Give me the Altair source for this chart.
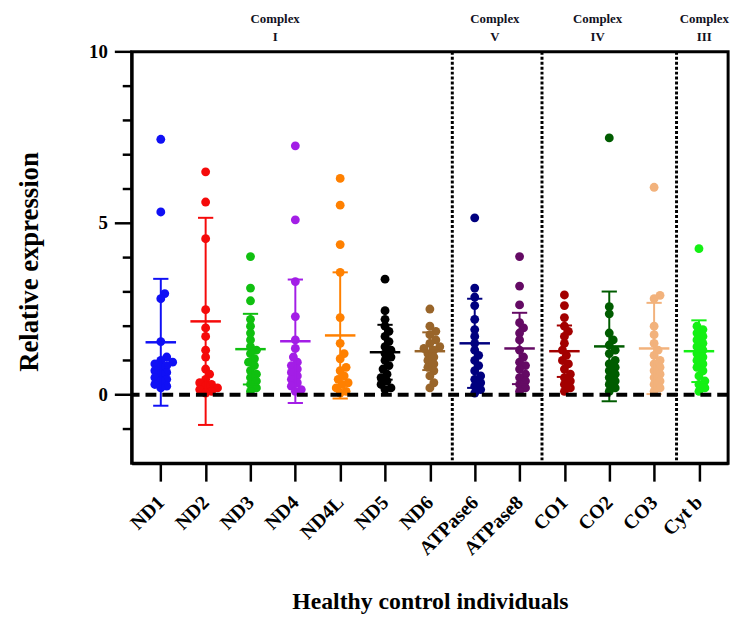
import altair as alt
import pandas as pd

genes = ["ND1", "ND2", "ND3", "ND4", "ND4L", "ND5", "ND6",
         "ATPase6", "ATPase8", "CO1", "CO2", "CO3", "Cyt b"]
colors = ["#1010f5", "#f50a0a", "#10c010", "#a31ee6", "#ff8000", "#000000", "#99652a",
          "#00007f", "#640a64", "#a30000", "#005c00", "#f2b27c", "#14f014"]

nd1 = [7.45, 5.33, 2.95, 2.8, 1.55, 1.1, 1.0, 0.95, 0.9, 0.85, 0.8, 0.7, 0.65, 0.6, 0.5, 0.45, 0.4, 0.3, 0.25, 0.2]
nd2 = [6.5, 5.62, 4.55, 2.48, 1.95, 1.7, 1.3, 1.1, 0.75, 0.6, 0.45, 0.35, 0.3, 0.25, 0.2, 0.15, 0.1, 0.05]
nd3 = [4.03, 3.11, 2.74, 2.2, 2.0, 1.8, 1.6, 1.4, 1.3, 1.2, 1.05, 0.95, 0.85, 0.7, 0.6, 0.5, 0.4, 0.3, 0.2, 0.1]
nd4 = [7.26, 5.1, 3.3, 2.28, 1.6, 1.35, 1.1, 0.95, 0.85, 0.75, 0.65, 0.55, 0.45, 0.35, 0.25, 0.15, 0.1]
nd4l = [6.31, 5.53, 4.38, 3.57, 2.25, 1.5, 1.2, 1.05, 0.8, 0.7, 0.55, 0.45, 0.35, 0.3, 0.2, 0.1, 0.05]
nd5 = [3.37, 2.45, 2.2, 2.0, 1.85, 1.7, 1.55, 1.4, 1.3, 1.2, 1.1, 1.0, 0.85, 0.75, 0.6, 0.5, 0.4, 0.3, 0.2, 0.15]
nd6 = [2.5, 2.0, 1.85, 1.75, 1.6, 1.5, 1.4, 1.35, 1.3, 1.2, 1.1, 1.0, 0.9, 0.8, 0.7, 0.55, 0.35, 0.2]
atpase6 = [5.16, 3.11, 2.85, 2.6, 2.2, 1.9, 1.7, 1.5, 1.3, 1.15, 1.0, 0.85, 0.7, 0.55, 0.45, 0.35, 0.25, 0.15, 0.05]
atpase8 = [4.03, 3.17, 2.62, 2.1, 1.95, 1.8, 1.6, 1.3, 1.1, 0.95, 0.85, 0.75, 0.6, 0.5, 0.4, 0.3, 0.2, 0.1]
co1 = [2.91, 2.6, 2.25, 2.0, 1.85, 1.7, 1.5, 1.3, 1.15, 1.0, 0.9, 0.75, 0.6, 0.5, 0.4, 0.3, 0.2, 0.1]
co2 = [7.49, 2.57, 2.36, 1.8, 1.6, 1.45, 1.3, 1.2, 1.0, 0.9, 0.8, 0.7, 0.6, 0.5, 0.4, 0.3, 0.2, 0.1]
co3 = [6.05, 2.9, 2.8, 2.0, 1.75, 1.5, 1.3, 1.15, 1.0, 0.9, 0.8, 0.7, 0.6, 0.5, 0.4, 0.3, 0.2, 0.1]
cytb = [4.26, 2.0, 1.9, 1.8, 1.7, 1.6, 1.5, 1.4, 1.3, 1.2, 1.1, 1.0, 0.9, 0.8, 0.7, 0.55, 0.4, 0.3, 0.2, 0.1]
series = [nd1, nd2, nd3, nd4, nd4l, nd5, nd6, atpase6, atpase8, co1, co2, co3, cytb]

means = [1.53, 2.14, 1.33, 1.56, 1.73, 1.24, 1.27, 1.50, 1.35, 1.27, 1.41, 1.35, 1.27]
sds = [1.85, 3.02, 1.03, 1.80, 1.84, 0.80, 0.55, 1.30, 1.04, 0.75, 1.60, 1.33, 0.90]

y_ticks = [-1, 0, 1, 2, 3, 4, 5, 6, 7, 8, 9, 10]
y_major = [0, 5, 10]

complex_names = ["I", "V", "IV", "III"]
complex_pos = [2.55, 7.45, 9.74, 12.12]
separators = [6.5, 8.5, 11.5]

W, H = 603, 416
XMIN, XMAX = -0.65, 12.65
YMIN, YMAX = -2, 10
px_x = W / (XMAX - XMIN)
px_y = H / (YMAX - YMIN)


def swarm(vals, d=9.0, stepx=2.0, overlap=0.62):
    placed = []
    res = [0.0] * len(vals)
    cands = [0.0]
    for j in range(1, 30):
        cands += [j * stepx, -j * stepx]
    for i in sorted(range(len(vals)), key=lambda k: vals[k]):
        y = vals[i] * px_y
        chosen = cands[-1]
        for c in cands:
            if all((c - px) ** 2 + (y - py) ** 2 >= (d * overlap) ** 2 for px, py in placed):
                chosen = c
                break
        placed.append((chosen, y))
        res[i] = chosen / px_x
    return res


rows = []
for gi, (g, vals) in enumerate(zip(genes, series)):
    offs = swarm(vals)
    for v, o in zip(vals, offs):
        rows.append({"gene": g, "xpos": gi + o, "value": v})
pts = pd.DataFrame(rows)

stats = pd.DataFrame({
    "gene": genes,
    "idx": list(range(len(genes))),
    "mean": means,
    "lo": [m - s for m, s in zip(means, sds)],
    "hi": [m + s for m, s in zip(means, sds)],
})
stats["mx1"] = stats["idx"] - 0.34
stats["mx2"] = stats["idx"] + 0.34
stats["cx1"] = stats["idx"] - 0.17
stats["cx2"] = stats["idx"] + 0.17

ytick_df = pd.DataFrame({
    "v": y_ticks,
    "len": [-17 if t in y_major else -9 for t in y_ticks],
    "lab": [str(t) if t in y_major else "" for t in y_ticks],
})

color = alt.Color("gene:N", scale=alt.Scale(domain=genes, range=colors), legend=None)
xscale = alt.Scale(domain=[XMIN, XMAX], nice=False, zero=False)
yscale = alt.Scale(domain=[YMIN, YMAX], nice=False, zero=False)

label_arr = "[" + ",".join("'" + g + "'" for g in genes) + "]"
xaxis = alt.Axis(
    values=list(range(len(genes))),
    labelExpr=label_arr + "[round(datum.value)]",
    labelAngle=-45, labelAlign="right", labelBaseline="middle",
    labelFontSize=20, labelPadding=18, tickSize=18, grid=False,
    labelOverlap=False, labelBound=False, labelFlush=False,
    title="Healthy control individuals", titleFontSize=24,
    titleX=W / 2, titleY=140, titleBaseline="middle",
)
yaxis = alt.Axis(
    ticks=False, labels=False, grid=False,
    title="Relative expression", titleFontSize=27,
    titleX=-103, titleY=H / 2 + 4, titleAngle=-90, titleAlign="center", titleBaseline="middle",
)

points = alt.Chart(pts).mark_circle(size=80, opacity=1).encode(
    x=alt.X("xpos:Q", scale=xscale, axis=xaxis),
    y=alt.Y("value:Q", scale=yscale, axis=yaxis),
    color=color,
)

yticks = alt.Chart(ytick_df).mark_rule(color="black", strokeWidth=2.5).encode(
    y=alt.Y("v:Q", scale=yscale, axis=yaxis),
    x=alt.X("len:Q", scale=None), x2=alt.value(0))
ylabels = alt.Chart(ytick_df).mark_text(
    font="Liberation Serif", fontWeight="bold", fontSize=19, color="black",
    align="right", baseline="middle").encode(
    y=alt.Y("v:Q", scale=yscale, axis=yaxis), x=alt.value(-24), text="lab:N")

vbar = alt.Chart(stats).mark_rule(strokeWidth=2).encode(
    x="idx:Q", y="lo:Q", y2="hi:Q", color=color)
caps_hi = alt.Chart(stats).mark_rule(strokeWidth=2).encode(
    x="cx1:Q", x2="cx2:Q", y="hi:Q", color=color)
caps_lo = alt.Chart(stats).mark_rule(strokeWidth=2).encode(
    x="cx1:Q", x2="cx2:Q", y="lo:Q", color=color)
mean_line = alt.Chart(stats).mark_rule(strokeWidth=2.5).encode(
    x="mx1:Q", x2="mx2:Q", y="mean:Q", color=color)

zero_line = alt.Chart(pd.DataFrame({"y": [0]})).mark_rule(
    color="black", strokeWidth=4, strokeDash=[11, 6]).encode(y="y:Q")

sep = alt.Chart(pd.DataFrame({"x": separators})).mark_rule(
    color="black", strokeWidth=3, strokeDash=[3, 2]).encode(
    x="x:Q", y=alt.value(0), y2=alt.value(H))

top_df = pd.DataFrame({"x": complex_pos, "name": complex_names, "c": ["Complex"] * 4})
top1 = alt.Chart(top_df).mark_text(
    font="Liberation Serif", fontWeight="bold", fontSize=13, color="#111122",
    baseline="middle").encode(x="x:Q", y=alt.value(-33), text="c:N")
top2 = alt.Chart(top_df).mark_text(
    font="Liberation Serif", fontWeight="bold", fontSize=13, color="#111122",
    baseline="middle").encode(x="x:Q", y=alt.value(-15), text="name:N")

chart = alt.layer(points, yticks, ylabels, vbar, caps_hi, caps_lo, mean_line,
                  zero_line, sep, top1, top2).properties(
    width=W, height=H,
    autosize=alt.AutoSizeParams(type="none"),
    padding={"left": 125, "top": 41, "right": 10, "bottom": 150},
).configure_view(
    stroke="black", strokeWidth=3
).configure_axis(
    domainColor="black", domainWidth=3, tickColor="black", tickWidth=2.5,
    labelFont="Liberation Serif", labelFontWeight="bold", labelColor="black",
    titleFont="Liberation Serif", titleFontWeight="bold", titleColor="black",
)

chart.save("out.html", embed_options={"renderer": "svg", "actions": False})
